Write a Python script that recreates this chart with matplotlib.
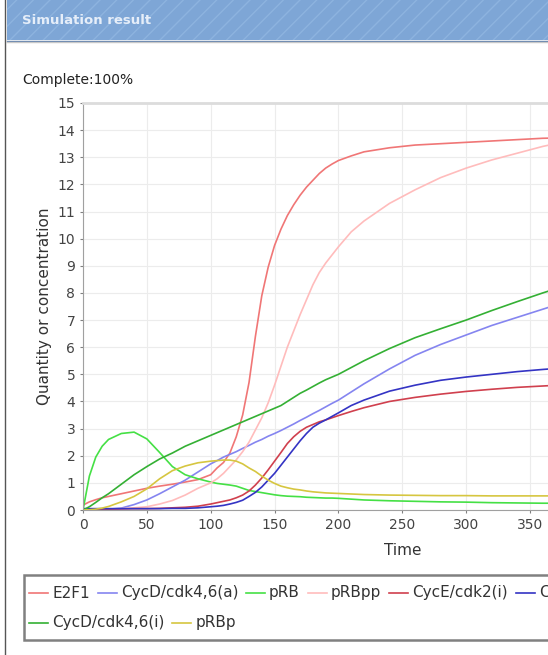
import matplotlib
matplotlib.use('Agg')
import matplotlib.pyplot as plt
from matplotlib.lines import Line2D
from matplotlib.patches import Rectangle

W, H = 548, 655

# simulation output
time = [0, 5, 10, 15, 20, 30, 40, 50, 60, 70, 80, 90,
        100, 105, 110, 115, 120, 125, 130, 135, 140, 145, 150, 155, 160,
        165, 170, 175, 180, 185, 190, 195, 200, 210, 220,
        240, 260, 280, 300, 320, 340, 360, 380]

e2f1 = [0.18, 0.3, 0.38, 0.45, 0.5, 0.6, 0.7, 0.8, 0.88, 0.95, 1.03, 1.12,
        1.3, 1.55, 1.75, 2.1, 2.7, 3.5, 4.7, 6.4, 7.9, 8.95, 9.75, 10.35, 10.85,
        11.25, 11.6, 11.9, 12.15, 12.4, 12.6, 12.75, 12.88, 13.05, 13.2,
        13.35, 13.45, 13.5, 13.55, 13.6, 13.65, 13.7, 13.72]
cycd_a = [0, 0, 0.01, 0.02, 0.03, 0.07, 0.2, 0.37, 0.6, 0.85, 1.1, 1.4,
          1.7, 1.82, 1.95, 2.05, 2.15, 2.27, 2.38, 2.5, 2.6, 2.72, 2.82, 2.93, 3.05,
          3.17, 3.3, 3.42, 3.55, 3.67, 3.8, 3.93, 4.05, 4.35, 4.65,
          5.2, 5.7, 6.1, 6.45, 6.8, 7.1, 7.4, 7.7]
prb = [0, 1.25, 1.95, 2.35, 2.6, 2.82, 2.87, 2.62, 2.12, 1.6, 1.3, 1.15,
       1.03, 0.98, 0.95, 0.92, 0.88, 0.8, 0.72, 0.68, 0.64, 0.6, 0.56, 0.53, 0.51,
       0.5, 0.49, 0.47, 0.46, 0.45, 0.44, 0.44, 0.43, 0.4, 0.37,
       0.34, 0.32, 0.3, 0.29, 0.27, 0.26, 0.25, 0.25]
prbpp = [0, 0, 0.01, 0.02, 0.03, 0.05, 0.08, 0.12, 0.22, 0.35, 0.55, 0.8,
         1.0, 1.15, 1.35, 1.6, 1.85, 2.15, 2.5, 2.95, 3.4, 3.95, 4.6, 5.3, 6.0,
         6.6, 7.2, 7.75, 8.3, 8.75, 9.1, 9.4, 9.7, 10.25, 10.65,
         11.3, 11.8, 12.25, 12.6, 12.9, 13.15, 13.4, 13.6]
cyce_i = [0.02, 0.02, 0.03, 0.03, 0.03, 0.04, 0.05, 0.05, 0.06, 0.08, 0.1, 0.14,
          0.22, 0.27, 0.32, 0.37, 0.45, 0.55, 0.7, 0.92, 1.18, 1.48, 1.8, 2.12, 2.45,
          2.7, 2.9, 3.05, 3.15, 3.25, 3.32, 3.4, 3.48, 3.63, 3.77,
          4.0, 4.15, 4.27, 4.37, 4.45, 4.52, 4.57, 4.62]
cyce_a = [0.05, 0.05, 0.05, 0.05, 0.05, 0.05, 0.05, 0.05, 0.05, 0.06, 0.06, 0.08,
          0.12, 0.14, 0.17, 0.22, 0.28, 0.36, 0.5, 0.65, 0.85, 1.1, 1.35, 1.65, 1.95,
          2.25, 2.55, 2.82, 3.05, 3.2, 3.32, 3.45, 3.58, 3.85, 4.05,
          4.38, 4.6, 4.78, 4.9, 5.0, 5.1, 5.18, 5.25]
cycd_i = [0, 0.12, 0.28, 0.45, 0.6, 0.95, 1.3, 1.6, 1.88, 2.1, 2.35, 2.55,
          2.75, 2.85, 2.95, 3.05, 3.15, 3.25, 3.35, 3.45, 3.55, 3.65, 3.75, 3.85, 4.0,
          4.15, 4.3, 4.42, 4.55, 4.68, 4.8, 4.9, 5.0, 5.25, 5.5,
          5.95, 6.35, 6.68, 7.0, 7.35, 7.68, 8.0, 8.3]
prbp = [0, 0.01, 0.03, 0.07, 0.13, 0.3, 0.5, 0.78, 1.15, 1.45, 1.62, 1.74,
        1.8, 1.82, 1.84, 1.84, 1.8, 1.7, 1.55, 1.42, 1.25, 1.1, 0.98, 0.88, 0.82,
        0.77, 0.74, 0.7, 0.67, 0.65, 0.63, 0.62, 0.61, 0.59, 0.57,
        0.55, 0.54, 0.53, 0.53, 0.52, 0.52, 0.52, 0.52]

labels = ['E2F1', 'CycD/cdk4,6(a)', 'pRB', 'pRBpp', 'CycE/cdk2(i)',
          'CycE/cdk2(a)', 'CycD/cdk4,6(i)', 'pRBp']
series = [e2f1, cycd_a, prb, prbpp, cyce_i, cyce_a, cycd_i, prbp]
colors = ['#f07676', '#8585f0', '#45e045', '#ffbcbc', '#d0404e',
          '#3434c4', '#34b034', '#d6c640']
xticks = list(range(0, 501, 50))
yticks = list(range(0, 16))
narrow = ['Liberation Sans Narrow', 'DejaVu Sans']


def fx(px):
    return px / W


def fy(py):
    return 1 - py / H


fig = plt.figure(figsize=(W / 100, H / 100), dpi=100)
fig.patch.set_facecolor('white')

# window chrome
fig.patches.append(Rectangle((fx(7), fy(40)), fx(W), 40 / H, transform=fig.transFigure,
                             facecolor='#7ea6d6', edgecolor='#8db3df', hatch='//', lw=0))
fig.add_artist(Line2D([fx(7), 1], [fy(40.5)] * 2, color='#5f80ad', lw=1))
fig.add_artist(Line2D([fx(7), 1], [fy(42)] * 2, color='#c8c8c8', lw=1))
fig.add_artist(Line2D([fx(5), fx(5)], [0, 1], color='#555555', lw=1))
fig.text(fx(22), fy(21), 'Simulation result', color='#e6eef9', fontsize=9.5,
         fontweight='bold', family=narrow, va='center')
fig.text(fx(22), fy(80), 'Complete:100%', color='#222222', fontsize=10,
         family=narrow, va='center')

# plot area (runs past the right edge of the screenshot)
px_per_t = (530 - 83) / 350
ax = fig.add_axes([fx(83), fy(510), px_per_t * 500 / W, (510 - 103) / H])
for vals, lab, col in zip(series, labels, colors):
    ax.plot(time, vals, color=col, lw=1.2, label=lab)

ax.set_xlim(0, 500)
ax.set_ylim(0, 15)
ax.set_xticks(xticks)
# labels past 350 fall outside the screenshot
ax.set_xticklabels([str(v) if v <= 350 else '' for v in xticks])
ax.set_yticks(yticks)
ax.grid(True, color='#ececec', lw=0.8)
ax.set_axisbelow(True)
ax.spines['right'].set_visible(False)
ax.spines['top'].set_color('#dcdcdc')
ax.spines['top'].set_linewidth(2)
ax.spines['left'].set_color('#a0a0a0')
ax.spines['bottom'].set_color('#a0a0a0')
ax.tick_params(length=2.5, color='#808080', labelcolor='#444444', labelsize=10, pad=3)
for t in ax.get_xticklabels() + ax.get_yticklabels():
    t.set_family(narrow)
ax.set_xlabel('Time', fontsize=11, color='#333333')
ax.set_ylabel('Quantity or concentration', fontsize=11, color='#333333')
ax.xaxis.set_label_coords(0.5, (510 - 543) / 407)
ax.yaxis.set_label_coords((52 - 83) / (px_per_t * 500), 0.5)

# legend box, drawn by hand in the flow layout of the original
fig.patches.append(Rectangle((fx(24), fy(640)), 1, 65 / H, transform=fig.transFigure,
                             facecolor='white', edgecolor='#808080', lw=1.8))
renderer = fig.canvas.get_renderer()
rows = [(593, range(0, 6)), (623, range(6, 8))]
for ry, idx in rows:
    x = 29
    for i in idx:
        fig.add_artist(Line2D([fx(x), fx(x + 19)], [fy(ry)] * 2, color=colors[i], lw=1.2))
        txt = fig.text(fx(x + 23), fy(ry), labels[i], fontsize=11, color='#333333',
                       va='center')
        w = txt.get_window_extent(renderer).width
        x = x + 23 + w + 8

fig.savefig('out.png', dpi=100)
